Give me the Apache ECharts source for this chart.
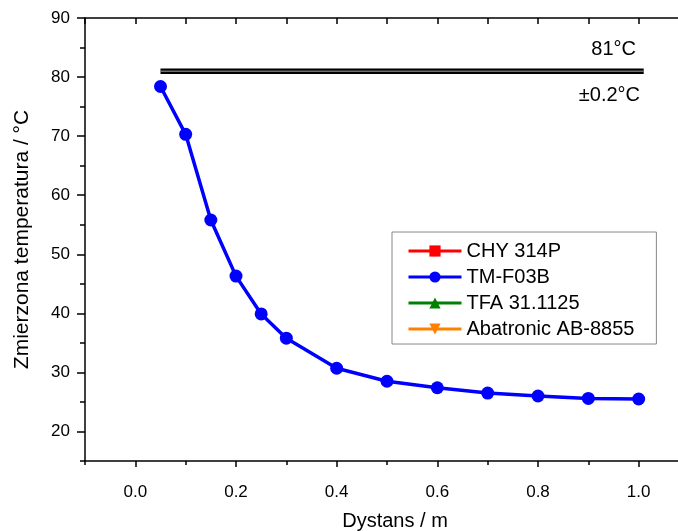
<!DOCTYPE html>
<html>
<head>
<meta charset="utf-8">
<script src="https://cdn.jsdelivr.net/npm/echarts@6/dist/echarts.min.js"></script>
<style>
  html, body { margin: 0; padding: 0; background: #fff; }
  #chart { width: 678px; height: 531px; }
</style>
</head>
<body>
<div id="chart"></div>
<script>
// dane pomiarowe - temperatura vs odleglosc
var distances = [0.05, 0.1, 0.15, 0.2, 0.25, 0.3, 0.4, 0.5, 0.6, 0.7, 0.8, 0.9, 1.0]
var tmF03B = [78.4, 70.3, 55.8, 46.3, 39.9, 35.8, 30.7, 28.5, 27.4, 26.5, 26.0, 25.6, 25.5]
var seriesNames = ['CHY 314P', 'TM-F03B', 'TFA 31.1125', 'Abatronic AB-8855']
var refX = [0.05, 1.01]
var refTemp = 81
var refTol = 0.2
var xLabels = [0, 0.2, 0.4, 0.6, 0.8, 1.0]
var xMinor = [-0.1, 0.1, 0.3, 0.5, 0.7, 0.9, 1.1]
var yLabels = [20, 30, 40, 50, 60, 70, 80, 90]
var yMinor = [15, 25, 35, 45, 55, 65, 75, 85]

var font = 'Liberation Sans'
var chart = echarts.init(document.getElementById('chart'))

var blueData = distances.map(function (d, i) { return [d, tmF03B[i]] })
var refData = refX.map(function (d) { return [d, refTemp] })

var option = {
  animation: false,
  backgroundColor: '#fff',
  grid: {
    left: 85,
    top: 18,
    right: -11,
    bottom: 70,
    outerBoundsMode: 'none'
  },
  legend: {
    data: seriesNames,
    orient: 'vertical',
    left: 392,
    top: 232,
    borderColor: '#888',
    borderWidth: 1,
    padding: [9, 22, 5, 15],
    itemWidth: 53,
    itemHeight: 14,
    itemGap: 6,
    lineStyle: { width: 3 },
    textStyle: { fontFamily: font, fontSize: 20, color: '#000', lineHeight: 20 }
  },
  xAxis: [{
    type: 'value',
    min: -0.1,
    max: 1.1,
    position: 'bottom',
    name: 'Dystans / m',
    nameLocation: 'middle',
    nameGap: 50,
    nameTextStyle: { fontFamily: font, fontSize: 20, color: '#000', padding: [0, 0, 0, 16] },
    axisLine: { onZero: false, lineStyle: { color: '#000', width: 1.5 } },
    axisTick: { customValues: xLabels, length: 6, lineStyle: { color: '#000', width: 1.5 } },
    axisLabel: {
      customValues: xLabels, margin: 23, fontFamily: font, fontSize: 17, color: '#000',
      formatter: function (v) { return v.toFixed(1) }
    },
    splitLine: { show: false }
  }, {
    type: 'value',
    min: -0.1,
    max: 1.1,
    position: 'bottom',
    axisLine: { show: false, onZero: false },
    axisTick: { customValues: xMinor, length: 4, lineStyle: { color: '#000', width: 1.5 } },
    axisLabel: { show: false },
    splitLine: { show: false }
  }, {
    type: 'value',
    min: -0.1,
    max: 1.1,
    position: 'top',
    axisLine: { onZero: false, lineStyle: { color: '#000', width: 1.5 } },
    axisTick: { inside: true, customValues: xLabels.concat(xMinor), length: 6, lineStyle: { color: '#000', width: 1.5 } },
    axisLabel: { show: false },
    splitLine: { show: false }
  }],
  yAxis: [{
    type: 'value',
    min: 15,
    max: 90,
    position: 'left',
    name: 'Zmierzona temperatura / °C',
    nameLocation: 'middle',
    nameGap: 52,
    nameTextStyle: { fontFamily: font, fontSize: 21, color: '#000' },
    axisLine: { onZero: false, lineStyle: { color: '#000', width: 1.5 } },
    axisTick: { customValues: yLabels, length: 8, lineStyle: { color: '#000', width: 1.5 } },
    axisLabel: { customValues: yLabels, margin: 15, fontFamily: font, fontSize: 17, color: '#000' },
    splitLine: { show: false }
  }, {
    type: 'value',
    min: 15,
    max: 90,
    position: 'left',
    axisLine: { show: false, onZero: false },
    axisTick: { customValues: yMinor, length: 5, lineStyle: { color: '#000', width: 1.5 } },
    axisLabel: { show: false },
    splitLine: { show: false }
  }],
  series: [
    // linia odniesienia 81°C
    {
      type: 'line', data: refData, symbol: 'none', silent: true,
      lineStyle: { color: '#000', width: 5.5, cap: 'butt' }
    },
    {
      type: 'line', data: refData, symbol: 'none', silent: true,
      lineStyle: { color: '#a8a8a8', width: 1, cap: 'butt' }
    },
    {
      name: seriesNames[0], type: 'line', data: [], symbol: 'rect', symbolSize: 10,
      itemStyle: { color: '#ff0000' }, lineStyle: { color: '#ff0000', width: 3 }
    },
    {
      name: seriesNames[2], type: 'line', data: [], symbol: 'triangle', symbolSize: 11,
      itemStyle: { color: '#008000' }, lineStyle: { color: '#008000', width: 3 }
    },
    {
      name: seriesNames[3], type: 'line', data: [], symbol: 'triangle', symbolRotate: 180, symbolSize: 11,
      itemStyle: { color: '#ff8000' }, lineStyle: { color: '#ff8000', width: 3 }
    },
    {
      name: seriesNames[1], type: 'line', data: blueData, symbol: 'circle', symbolSize: 13,
      itemStyle: { color: '#0000ff' }, lineStyle: { color: '#0000ff', width: 3.5 }
    }
  ],
  graphic: [
    {
      type: 'text', right: 42, top: 39,
      style: { text: refTemp + '°C', font: '20px "Liberation Sans"', fill: '#000' }
    },
    {
      type: 'text', right: 38, top: 85,
      style: { text: '±' + refTol + '°C', font: '20px "Liberation Sans"', fill: '#000' }
    }
  ]
}

chart.setOption(option)
</script>
</body>
</html>
